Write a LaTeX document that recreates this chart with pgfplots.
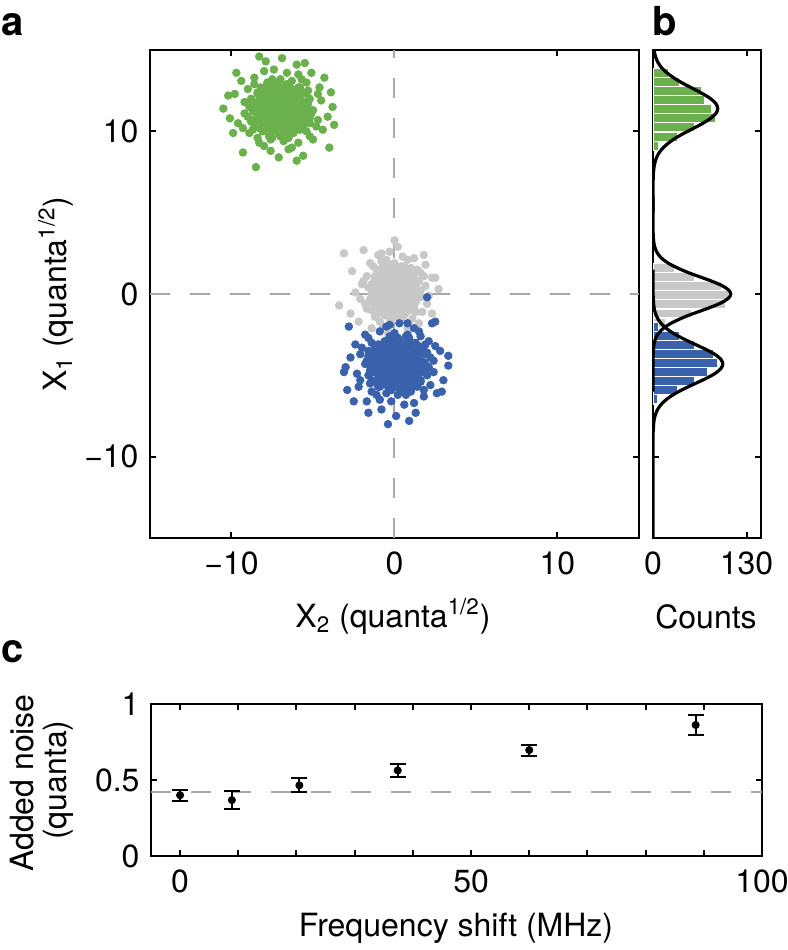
\documentclass[border=0pt]{standalone}
\usepackage{fontspec}
\setmainfont{TeX Gyre Heros}
\usepackage{pgfplots}
\pgfplotsset{compat=1.18}
\definecolor{cgreen}{HTML}{6AB04C}
\definecolor{cblue}{HTML}{3A62AC}
\definecolor{cgray}{HTML}{C8C8C8}
\definecolor{cdash}{HTML}{A8A8A8}
\pgfplotsset{
 myaxis/.style={
  scale only axis, anchor=south west,
  axis line style={line width=1.1pt, black},
  tick align=inside, major tick length=3pt,
  tick style={black, line width=1pt},
  tick label style={font=\fontsize{16}{19}\selectfont},
  yticklabel style={xshift=-2.2pt},
  xticklabel style={yshift=-3.2pt},
 },
 dots/.style={only marks, mark=*, mark size=1.9pt},
}
\begin{document}
\begin{tikzpicture}[font=\fontsize{16}{19}\selectfont]
\useasboundingbox (0,0) rectangle (394pt,-475pt);

% ---------------- panel a ----------------
\begin{axis}[myaxis, at={(75pt,-269pt)}, width=244.5pt, height=244pt,
  xmin=-15, xmax=15, ymin=-15, ymax=15,
  xtick={-10,0,10}, ytick={-10,0,10},
  xticklabels={−10,0,10}, yticklabels={−10,0,10}]
\addplot[dots, color=cgray] coordinates {
(-0.5,0.5) (0.4,-1.0) (1.1,1.0) (-0.1,0.0) (-0.7,1.7) (-1.3,-0.4) (0.9,0.3) (-0.2,-1.6) (0.2,0.7) (0.7,-0.7)
(0.3,1.3) (-0.6,-0.2) (1.6,0.2) (0.5,2.3) (-1.0,-1.2) (-1.2,0.9) (0.3,0.1) (-2.0,0.6) (0.8,-2.1) (1.4,1.5)
(0.0,-0.5) (-0.9,0.4) (0.6,1.1) (1.2,-0.8) (-0.3,0.8) (2.1,-0.1) (-1.5,1.9) (0.2,-1.4) (-0.4,0.2) (-0.1,1.2)
(0.5,-0.3) (1.3,0.5) (-0.5,-0.9) (-0.3,2.6) (-1.8,-0.6) (0.8,0.7) (-1.1,0.0) (0.9,1.4) (-0.9,-1.7) (0.1,0.3)
(-0.6,1.0) (1.0,-0.4) (0.1,1.6) (1.7,-1.1) (-1.6,0.4) (0.4,-0.2) (1.8,1.1) (-0.4,-2.4) (0.0,0.8) (-0.7,0.1)
(0.8,2.1) (-0.2,-0.7) (0.6,0.6) (0.6,-1.3) (-1.3,0.2) (-0.9,1.3) (1.4,-0.1) (0.4,0.9) (-0.8,-0.5) (-0.2,1.8)
(-1.4,-1.0) (0.0,0.5) (-0.3,-0.3) (1.2,2.2) (1.1,-1.5) (2.3,1.0) (0.7,0.0) (-1.1,1.5) (0.3,-0.7) (-0.8,0.7)
(-2.4,0.1) (0.5,1.2) (0.0,-1.2) (0.4,0.4) (-0.5,-0.4) (-0.4,1.1) (1.5,-1.8) (1.5,0.8) (-1.0,-0.1) (0.6,1.7)
(-0.7,-0.8) (-0.2,0.3) (0.9,-0.6) (-0.8,2.0) (0.1,-0.2) (-1.4,0.6) (-1.2,-1.4) (0.7,0.9) (1.1,0.1) (-0.5,1.4)
(0.5,-0.9) (0.2,0.2) (0.2,2.9) (-1.5,-0.3) (1.9,0.5) (-0.1,-1.1) (0.1,1.0) (1.3,-0.5) (1.0,1.6) (-0.4,0.0)
(-1.9,0.8) (0.4,-1.6) (1.6,1.3) (-0.8,-0.2) (0.8,0.4) (-1.1,-0.7) (0.0,1.9) (0.5,0.1) (-0.5,0.7) (-0.7,-2.0)
(-1.7,1.1) (0.2,-0.4) (-1.2,0.3) (0.4,1.5) (0.9,-1.0) (1.0,0.6) (-0.2,-0.1) (-1.0,2.4) (-0.6,-1.3) (-0.1,0.9)
(2.0,-0.6) (0.6,0.2) (1.2,1.2) (-2.1,-0.3) (-0.6,0.5) (0.1,-0.8) (-1.3,1.7) (0.9,0.0) (0.3,0.8) (-0.3,-1.5)
(0.9,1.1) (1.6,-0.2) (-0.3,1.4) (-0.4,-0.5) (-0.3,0.4) (1.3,-1.1) (-1.0,1.0) (0.0,0.1) (-0.5,2.1) (0.6,-0.4)
(0.3,0.6) (0.1,-2.7) (2.7,0.3) (1.9,1.8) (-1.7,-0.9) (1.2,0.7) (-0.9,-0.1) (-0.1,0.2) (-1.9,2.7) (-2.2,-1.7)
(-3.4,-0.7) (-3.1,2.5) (-0.8,2.5) (0.0,3.3) (2.5,1.0) (2.3,-1.2) (-2.6,1.4) (1.8,2.4) (-2.7,-1.2) (0.9,-2.2) (-1.4,-2.1)
};
\addplot[dots, color=cgray] coordinates {
(-0.1,0.4) (-0.4,-0.1) (0.2,0.8) (0.3,-0.6) (0.7,0.3) (-0.5,1.1) (-0.9,-0.3) (-1.0,0.6) (-0.2,-0.9) (0.1,0.2)
(0.6,1.4) (1.0,0.0) (-0.8,0.9) (-0.6,-0.7) (0.4,0.5) (0.6,-0.2) (0.0,1.2) (-0.1,-0.4) (-0.4,0.7) (0.7,-1.1)
(-1.2,0.3) (-0.6,0.1) (0.9,1.0) (1.1,-0.5) (-0.3,1.6) (0.2,-0.1) (-0.7,0.4) (-1.0,-0.8) (-0.1,0.8) (0.4,-0.3)
(-0.3,0.2) (-0.9,1.3) (0.0,-0.6) (1.2,0.6) (-1.4,0.0) (0.3,1.1) (0.2,-1.0) (-0.5,0.5) (-0.2,-0.2) (0.5,0.9)
(0.8,-0.4) (0.3,0.3) (0.1,1.5) (-0.9,-0.7) (-1.1,0.7) (0.5,0.1) (-0.2,1.0) (-0.4,-1.2) (0.8,0.4) (-0.8,-0.1)
(1.0,1.2) (-0.4,-0.5) (0.0,0.6) (-1.3,-0.3) (-0.6,0.8) (0.9,-0.9) (1.3,0.2) (-1.2,1.1) (0.0,0.0) (0.1,0.5)
(0.5,-0.6) (-0.4,1.4) (1.4,-0.2) (0.7,0.9) (-0.7,-0.4) (-0.9,0.3) (0.4,-0.8) (0.6,0.7) (-0.2,0.1) (0.4,1.7)
(0.8,-0.1) (-0.7,1.0) (-0.2,-0.7) (-0.3,0.4) (0.1,-0.3) (1.1,0.8) (-0.8,-1.0) (-0.5,0.2) (0.2,1.3) (0.3,-0.5)
(-1.3,0.5) (0.3,0.0) (-0.1,1.1) (-0.1,-1.1) (0.3,0.6) (-0.6,-0.2) (-0.3,0.9) (1.2,-0.4) (0.6,0.3) (-0.6,1.2)
(-1.1,-0.6) (0.9,0.7) (0.9,0.1) (-1.0,0.4) (0.7,-0.8) (0.4,1.0) (-0.1,-0.1) (-0.9,0.8) (-0.3,-0.3) (-0.8,1.5)
(0.1,-0.7) (0.4,0.2) (-0.7,0.6) (-1.4,-0.5) (0.8,1.4) (-0.5,0.0) (1.0,0.5) (-0.5,-0.9) (0.7,1.1) (0.9,-0.2)
(-1.0,0.9) (0.2,-0.4) (-0.4,0.3) (1.2,0.1) (-0.2,1.3) (0.5,-1.2) (-0.2,0.7) (-1.1,-0.1) (0.5,0.4) (-0.8,0.2)
};
\addplot[dots, color=cblue] coordinates {
(-0.2,-3.7) (1.6,-4.8) (-0.8,-5.6) (0.4,-4.2) (-1.6,-3.5) (0.9,-2.7) (0.1,-5.4) (2.4,-4.1) (-0.4,-4.5) (1.3,-5.1)
(-1.1,-4.7) (0.7,-3.6) (0.2,-6.2) (-2.3,-4.9) (1.9,-3.1) (-0.6,-2.9) (0.3,-4.7) (-0.3,-1.9) (3.0,-5.3) (-1.4,-6.0)
(1.0,-4.3) (0.0,-3.2) (-0.9,-5.0) (1.4,-5.7) (-0.5,-3.9) (0.6,-6.8) (-1.8,-2.5) (2.1,-4.5) (0.2,-3.8) (-1.0,-4.2)
(0.8,-4.9) (-0.2,-5.9) (1.5,-3.7) (-2.7,-3.9) (1.2,-2.1) (-0.4,-5.3) (0.4,-3.0) (-1.2,-5.4) (2.5,-3.2) (0.1,-4.4)
(-0.8,-3.6) (0.9,-5.5) (-1.5,-4.4) (1.8,-6.3) (0.0,-2.4) (0.7,-4.8) (-0.9,-6.5) (3.3,-3.8) (-0.5,-4.3) (0.3,-3.5)
(-2.1,-5.3) (1.3,-4.1) (-0.3,-5.0) (2.0,-5.0) (0.2,-2.7) (-1.1,-3.2) (0.6,-6.0) (-0.6,-4.8) (1.0,-3.3) (-1.7,-4.1)
(1.6,-2.6) (-0.2,-4.3) (0.8,-3.9) (-2.2,-5.7) (2.2,-5.6) (-0.8,-7.1) (0.4,-5.1) (-1.4,-3.0) (1.3,-4.7) (-0.4,-3.3)
(0.3,-1.8) (-1.0,-4.9) (1.9,-4.3) (0.0,-4.8) (0.9,-3.7) (-0.9,-3.8) (2.6,-6.1) (-0.5,-6.1) (0.6,-3.1) (-1.6,-5.0)
(1.4,-3.5) (0.1,-4.1) (1.2,-5.4) (-2.0,-3.3) (0.7,-4.4) (-0.3,-2.6) (2.1,-2.9) (-0.6,-5.1) (0.3,-5.6) (-1.2,-3.7)
(1.5,-4.9) (0.2,-4.5) (-3.0,-4.5) (0.8,-2.5) (-0.2,-6.6) (1.8,-4.2) (-0.8,-4.4) (1.0,-5.9) (-1.5,-5.5) (0.4,-3.8)
(-0.5,-2.0) (2.4,-4.8) (-1.1,-6.2) (0.7,-3.3) (0.0,-5.3) (1.3,-3.0) (-1.8,-4.3) (0.3,-4.9) (-0.4,-3.7) (2.8,-3.5)
(-0.9,-2.3) (0.9,-4.5) (0.1,-2.9) (-1.4,-4.8) (1.6,-5.4) (-0.3,-5.5) (0.6,-4.1) (-2.4,-3.1) (2.0,-3.6) (-0.6,-4.2)
(1.2,-6.7) (0.2,-5.0) (-1.0,-5.7) (0.8,-1.8) (-0.2,-3.6) (1.4,-4.4) (-1.6,-2.7) (0.4,-5.4) (-0.5,-4.7) (2.2,-3.9)
(-0.9,-5.4) (0.7,-6.2) (-1.2,-3.9) (1.0,-3.8) (0.0,-3.9) (1.8,-5.9) (-0.8,-3.1) (0.3,-4.3) (-2.1,-3.7) (0.9,-5.0)
(-0.3,-4.7) (3.3,-4.4) (0.1,-7.5) (-1.7,-6.6) (1.5,-2.3) (-0.4,-5.7) (0.6,-3.2) (0.2,-4.2) (-2.8,-2.0) (2.5,-1.7)
(-0.4,-8.0) (-3.1,-4.8) (-2.9,-5.9) (2.9,-6.0) (-2.5,-6.6) (1.3,-7.3) (-1.6,-7.3) (2.3,-1.8) (2.0,-0.2) (0.9,-7.8)
};
\addplot[dots, color=cblue] coordinates {
(0.0,-4.4) (0.6,-4.8) (-0.5,-4.1) (1.2,-3.9) (0.1,-3.5) (-0.9,-4.9) (0.8,-5.4) (-0.3,-5.5) (1.5,-4.5) (0.2,-4.2)
(-1.2,-3.6) (0.4,-3.1) (-0.6,-5.3) (1.3,-5.0) (-0.2,-3.8) (0.7,-3.6) (-1.0,-4.3) (0.9,-4.4) (-0.4,-4.8) (1.8,-3.5)
(0.1,-5.7) (0.3,-5.0) (-0.8,-3.2) (1.0,-3.0) (-1.5,-4.7) (0.6,-4.1) (0.0,-5.1) (1.4,-5.5) (-0.5,-4.4) (0.8,-3.8)
(0.2,-4.7) (-1.1,-5.4) (1.2,-4.3) (-0.3,-2.9) (0.4,-6.0) (-0.9,-3.9) (1.6,-4.1) (-0.2,-4.9) (0.7,-4.5) (-0.6,-3.7)
(0.9,-3.3) (0.1,-3.9) (-1.4,-4.2) (1.3,-5.4) (-0.4,-5.6) (0.3,-3.7) (-0.8,-4.5) (1.9,-4.8) (0.0,-3.3) (0.6,-5.3)
(-1.0,-3.1) (1.0,-4.8) (-0.3,-4.3) (0.8,-5.9) (-0.5,-5.0) (1.5,-3.2) (0.2,-2.7) (-0.9,-5.7) (0.4,-4.3) (-0.2,-4.2)
(1.2,-3.7) (-1.2,-4.8) (0.7,-2.6) (-0.6,-3.5) (0.9,-5.1) (0.1,-5.4) (1.4,-3.8) (-0.4,-3.6) (0.3,-4.5) (-1.6,-3.8)
(0.6,-3.3) (-0.8,-5.1) (1.3,-4.5) (0.0,-4.7) (0.8,-4.2) (-0.5,-3.0) (1.6,-5.3) (0.2,-4.9) (-1.1,-4.1) (1.0,-3.9)
(-0.2,-5.9) (0.4,-3.9) (-0.9,-4.4) (1.8,-4.4) (-0.3,-3.9) (0.7,-5.0) (-0.6,-4.7) (0.9,-2.9) (0.1,-3.6) (-1.0,-5.0)
(1.2,-5.6) (-0.4,-3.2) (0.3,-3.2) (0.0,-5.5) (1.4,-3.5) (-0.8,-3.8) (0.6,-4.4) (-0.5,-5.4) (0.8,-4.7) (-1.4,-5.3)
(1.3,-4.2) (0.2,-3.8) (-0.3,-5.1) (1.0,-6.0) (-1.2,-3.3) (0.4,-4.9) (-0.2,-3.1) (1.5,-4.9) (-0.9,-3.5) (0.7,-3.2)
(-0.6,-5.5) (0.9,-4.1) (0.1,-4.8) (0.3,-2.9) (-1.1,-4.5) (1.9,-3.7) (-0.4,-4.5) (0.6,-5.6) (0.0,-3.7) (0.2,-5.3)
};
\addplot[dots, color=cgreen] coordinates {
(-6.6,10.7) (-8.4,11.8) (-6.0,12.6) (-7.2,11.2) (-5.2,10.5) (-7.7,9.7) (-6.9,12.4) (-9.2,11.1) (-6.4,11.5) (-8.1,12.1)
(-5.7,11.7) (-7.5,10.6) (-7.0,13.2) (-4.5,11.9) (-8.7,10.1) (-6.2,9.9) (-7.1,11.7) (-6.5,8.9) (-9.8,12.3) (-5.4,13.0)
(-7.8,11.3) (-6.8,10.2) (-5.9,12.0) (-8.2,12.7) (-6.3,10.9) (-7.4,13.8) (-5.0,9.5) (-8.9,11.5) (-7.0,10.8) (-5.8,11.2)
(-7.6,11.9) (-6.6,12.9) (-8.3,10.7) (-4.1,10.9) (-8.0,9.1) (-6.4,12.3) (-7.2,10.0) (-5.6,12.4) (-9.3,10.2) (-6.9,11.4)
(-6.0,10.6) (-7.7,12.5) (-5.3,11.4) (-8.6,13.3) (-6.8,9.4) (-7.5,11.8) (-5.9,13.5) (-10.1,10.8) (-6.3,11.3) (-7.1,10.5)
(-4.7,12.3) (-8.1,11.1) (-6.5,12.0) (-8.8,12.0) (-7.0,9.7) (-5.7,10.2) (-7.4,13.0) (-6.2,11.8) (-7.8,10.3) (-5.1,11.1)
(-8.4,9.6) (-6.6,11.3) (-7.6,10.9) (-4.6,12.7) (-9.0,12.6) (-6.0,14.1) (-7.2,12.1) (-5.4,10.0) (-8.1,11.7) (-6.4,10.3)
(-7.1,8.4) (-5.8,11.9) (-8.7,11.3) (-6.8,11.8) (-7.7,10.7) (-5.9,10.8) (-9.4,13.1) (-6.3,13.1) (-7.4,10.1) (-5.2,12.0)
(-8.2,10.5) (-6.9,11.1) (-8.0,12.4) (-4.8,10.3) (-7.5,11.4) (-6.5,9.6) (-8.9,9.9) (-6.2,12.1) (-7.1,12.6) (-5.6,10.7)
(-8.3,11.9) (-7.0,11.5) (-3.8,11.5) (-7.6,9.5) (-6.6,13.6) (-8.6,11.2) (-6.0,11.4) (-7.8,12.9) (-5.3,12.5) (-7.2,10.8)
(-6.3,9.0) (-9.2,11.8) (-5.7,13.2) (-7.5,10.3) (-6.8,12.3) (-8.1,10.0) (-5.0,11.3) (-7.1,11.9) (-6.4,10.7) (-9.6,10.5)
(-5.9,9.3) (-7.7,11.5) (-6.9,9.9) (-5.4,11.8) (-8.4,12.4) (-6.5,12.5) (-7.4,11.1) (-4.4,10.1) (-8.8,10.6) (-6.2,11.2)
(-8.0,13.7) (-7.0,12.0) (-5.8,12.7) (-7.6,8.8) (-6.6,10.6) (-8.2,11.4) (-5.2,9.7) (-7.2,12.4) (-6.3,11.7) (-9.0,10.9)
(-5.9,12.4) (-7.5,13.2) (-5.6,10.9) (-7.8,10.8) (-6.8,10.9) (-8.6,12.9) (-6.0,10.1) (-7.1,11.3) (-4.7,10.7) (-7.7,12.0)
(-6.5,11.7) (-10.5,11.4) (-6.9,14.5) (-5.1,13.6) (-8.3,9.3) (-6.4,12.7) (-7.4,10.2) (-7.0,11.2) (-4.0,9.0) (-9.3,8.7)
(-8.5,7.8) (-6.0,8.2) (-5.6,8.5) (-10.2,12.2) (-3.9,12.4) (-7.9,14.3) (-5.5,14.2) (-9.7,13.6) (-9.9,9.9) (-8.3,14.6) (-4.3,13.3) (-3.7,10.4)
};
\addplot[dots, color=cgreen] coordinates {
(-6.8,11.4) (-7.4,11.8) (-6.3,11.1) (-8.0,10.9) (-6.9,10.5) (-5.9,11.9) (-7.6,12.4) (-6.5,12.5) (-8.3,11.5) (-7.0,11.2)
(-5.6,10.6) (-7.2,10.1) (-6.2,12.3) (-8.1,12.0) (-6.6,10.8) (-7.5,10.6) (-5.8,11.3) (-7.7,11.4) (-6.4,11.8) (-8.6,10.5)
(-6.9,12.7) (-7.1,12.0) (-6.0,10.2) (-7.8,10.0) (-5.3,11.7) (-7.4,11.1) (-6.8,12.1) (-8.2,12.5) (-6.3,11.4) (-7.6,10.8)
(-7.0,11.7) (-5.7,12.4) (-8.0,11.3) (-6.5,9.9) (-7.2,13.0) (-5.9,10.9) (-8.4,11.1) (-6.6,11.9) (-7.5,11.5) (-6.2,10.7)
(-7.7,10.3) (-6.9,10.9) (-5.4,11.2) (-8.1,12.4) (-6.4,12.6) (-7.1,10.7) (-6.0,11.5) (-8.7,11.8) (-6.8,10.3) (-7.4,12.3)
(-5.8,10.1) (-7.8,11.8) (-6.5,11.3) (-7.6,12.9) (-6.3,12.0) (-8.3,10.2) (-7.0,9.7) (-5.9,12.7) (-7.2,11.3) (-6.6,11.2)
(-8.0,10.7) (-5.6,11.8) (-7.5,9.6) (-6.2,10.5) (-7.7,12.1) (-6.9,12.4) (-8.2,10.8) (-6.4,10.6) (-7.1,11.5) (-5.2,10.8)
(-7.4,10.3) (-6.0,12.1) (-8.1,11.5) (-6.8,11.7) (-7.6,11.2) (-6.3,10.0) (-8.4,12.3) (-7.0,11.9) (-5.7,11.1) (-7.8,10.9)
(-6.6,12.9) (-7.2,10.9) (-5.9,11.4) (-8.6,11.4) (-6.5,10.9) (-7.5,12.0) (-6.2,11.7) (-7.7,9.9) (-6.9,10.6) (-5.8,12.0)
(-8.0,12.6) (-6.4,10.2) (-7.1,10.2) (-6.8,12.5) (-8.2,10.5) (-6.0,10.8) (-7.4,11.4) (-6.3,12.4) (-7.6,11.7) (-5.4,12.3)
(-8.1,11.2) (-7.0,10.8) (-6.5,12.1) (-7.8,13.0) (-5.6,10.3) (-7.2,11.9) (-6.6,10.1) (-8.3,11.9) (-5.9,10.5) (-7.5,10.2)
(-6.2,12.5) (-7.7,11.1) (-6.9,11.8) (-7.1,9.9) (-5.7,11.5) (-8.7,10.7) (-6.4,11.5) (-7.4,12.6) (-6.8,10.7) (-7.0,12.3)
};
\addplot[cdash, line width=1pt, dash pattern=on 10pt off 10pt] coordinates {(-15,0) (15,0)};
\addplot[cdash, line width=1pt, dash pattern=on 10pt off 10pt] coordinates {(0,-15) (0,15)};
\end{axis}

% ---------------- panel b ----------------
\begin{axis}[myaxis, at={(326.5pt,-269pt)}, width=54pt, height=244pt,
  xmin=0, xmax=150, ymin=-15, ymax=15,
  xtick={0,130}, xticklabels={0,130},
  ytick={-10,0,10}, yticklabels={}]
\addplot[xbar, bar width=0.56, bar shift=0pt, fill=cgreen, draw=white, line width=0.6pt] coordinates {
(21,13.6) (37,13.04) (67,12.48) (72,11.92) (81,11.36) (87,10.8) (58,10.24) (34,9.68) (8,9.12)};
\addplot[xbar, bar width=0.56, bar shift=0pt, fill=cgray, draw=white, line width=0.6pt] coordinates {
(30,1.6) (58,1.04) (95,0.48) (105,-0.08) (101,-0.64) (54,-1.2) (18,-1.76)};
\addplot[xbar, bar width=0.56, bar shift=0pt, fill=cblue, draw=white, line width=0.6pt] coordinates {
(8,-2.0) (37,-2.56) (58,-3.12) (84,-3.68) (90,-4.24) (76,-4.8) (58,-5.36) (34,-5.92) (6,-6.48)};
\addplot[black, line width=1.6pt, smooth] coordinates {
(0,16) (1.0,15.15) (2.1,14.84) (4.0,14.53) (7.2,14.21) (12.2,13.9) (19.5,13.59) (29.2,13.28) (41.2,12.96)
(54.6,12.65) (67.9,12.34) (79.4,12.03) (87.2,11.71) (90,11.4) (87.2,11.09) (79.4,10.78) (67.9,10.46)
(54.6,10.15) (41.2,9.84) (29.2,9.53) (19.5,9.21) (12.2,8.9) (7.2,8.59) (4.0,8.28) (2.1,7.96) (1.0,7.65)
(0.2,7.03) (0.03,6.4) (0,5)};
\addplot[black, line width=1.6pt, smooth] coordinates {
(0,6) (0.03,4.2) (0.24,3.68) (1.2,3.15) (2.5,2.89) (4.7,2.63) (8.6,2.36) (14.6,2.1) (23.4,1.84) (35.1,1.58)
(49.4,1.31) (65.5,1.05) (81.5,0.79) (95.3,0.53) (104.7,0.26) (108,0) (104.7,-0.26) (95.3,-0.53) (81.5,-0.79)
(65.5,-1.05) (49.4,-1.31) (35.1,-1.58) (23.4,-1.84) (14.6,-2.1) (8.6,-2.36) (4.7,-2.63) (2.5,-2.89)
(1.2,-3.15) (0.24,-3.68) (0.03,-4.2) (0,-6)};
\addplot[black, line width=1.6pt, smooth] coordinates {
(0,1.5) (0.03,0.5) (0.2,-0.1) (1.1,-0.7) (2.2,-1.0) (4.3,-1.3) (7.7,-1.6) (13.1,-1.9) (21.0,-2.2) (31.5,-2.5)
(44.4,-2.8) (58.8,-3.1) (73.2,-3.4) (85.6,-3.7) (94.0,-4.0) (97,-4.3) (94.0,-4.6) (85.6,-4.9) (73.2,-5.2)
(58.8,-5.5) (44.4,-5.8) (31.5,-6.1) (21.0,-6.4) (13.1,-6.7) (7.7,-7.0) (4.3,-7.3) (2.2,-7.6) (1.1,-7.9)
(0.2,-8.5) (0.03,-9.1) (0,-16)};
\end{axis}

% ---------------- panel c ----------------
\begin{axis}[myaxis, at={(75.5pt,-428pt)}, width=305.5pt, height=76pt,
  xmin=-5, xmax=100, ymin=0, ymax=1,
  xtick={0,10,...,100}, xticklabels={0,,,,,50,,,,,100},
  ytick={0,0.5,1}, yticklabels={0,0.5,1}]
\addplot[cdash, line width=1pt, dash pattern=on 10pt off 10pt] coordinates {(-5,0.42) (100,0.42)};
\addplot[only marks, mark=*, mark size=1.8pt, black,
  error bars/.cd, y dir=both, y explicit,
  error bar style={line width=1pt, black},
  error mark options={rotate=90, mark size=4pt, line width=1pt, black}]
  coordinates {
  (0,0.400) +- (0,0.035)
  (8.9,0.368) +- (0,0.060)
  (20.5,0.465) +- (0,0.046)
  (37.4,0.563) +- (0,0.045)
  (60,0.697) +- (0,0.036)
  (88.6,0.862) +- (0,0.066)
  };
\end{axis}

% ---------------- texts ----------------
\node[anchor=base west, inner sep=0, font=\bfseries\fontsize{20}{24}\selectfont] at (0.5pt,-17.5pt) {a};
\node[anchor=base west, inner sep=0, font=\bfseries\fontsize{20}{24}\selectfont] at (326pt,-17.5pt) {b};
\node[anchor=base west, inner sep=0, font=\bfseries\fontsize{20}{24}\selectfont] at (0.5pt,-331pt) {c};
\node[anchor=base, inner sep=0] at (196.5pt,-313.5pt) {X\textsubscript{2} (quanta\textsuperscript{1/2})};
\node[anchor=base, inner sep=0] at (353pt,-314pt) {Counts};
\node[anchor=base, inner sep=0, rotate=90] at (33.5pt,-147pt) {X\textsubscript{1} (quanta\textsuperscript{1/2})};
\node[anchor=base, inner sep=0, rotate=90] at (16.5pt,-391.5pt) {Added noise};
\node[anchor=base, inner sep=0, rotate=90] at (33.5pt,-390pt) {(quanta)};
\node[anchor=base, inner sep=0] at (228pt,-468pt) {Frequency shift (MHz)};
\end{tikzpicture}
\end{document}
